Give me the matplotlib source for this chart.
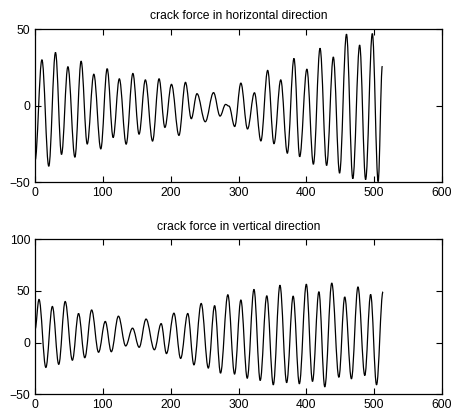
import matplotlib
matplotlib.use("Agg")
import matplotlib.pyplot as plt
from matplotlib.path import Path
from matplotlib.patches import PathPatch

plt.rcParams['font.family'] = ['Liberation Sans', 'DejaVu Sans']

# Crack force, horizontal direction: sample index and force at each turning point
h_x = [0, 10.2, 20.3, 30.2, 39.1, 48.5, 58.8, 68, 77, 86.7, 97, 106.4, 115.2, 124.3,
       134.4, 144.3, 153.4, 162.7, 173.3, 182.9, 191.5, 201.2, 212.2, 221.8, 230.4,
       238.8, 251, 263.2, 272.8, 281, 286, 294.4, 303.5, 313.3, 323.5, 333, 343,
       352.3, 362.3, 372, 381.8, 390.2, 400.8, 410.4, 420.2, 429.9, 439.8, 449,
       459.2, 468.5, 478.6, 487.4, 497.3, 505.9, 512]
h_y = [-36, 29.9, -39.5, 34.7, -31.8, 25.4, -33.6, 29, -25, 20.5, -28.2, 24.1, -20.8, 17.5,
       -25.1, 21, -18.6, 16.8, -23.1, 17.5, -14.2, 13.9, -19.4, 15.2, -8.5,
       7.8, -10.5, 8.5, -6.8, 0.8, -0.3, -13.6, 14.7, -15.2, 8.4, -23, 23,
       -24.8, 16.8, -31, 30.8, -33.3, 23.8, -38.2, 37.4, -39, 31.7, -44,
       46.6, -47.6, 39.5, -48.2, 47, -49.5, 25.8]

# Crack force, vertical direction
v_x = [0, 5.9, 16, 25.6, 35, 44.5, 55.1, 64.2, 73.4, 83.5, 93.7, 103.6, 112.5, 123,
       133.7, 143.8, 153.6, 163.7, 176, 186, 193.8, 204.8, 214.7, 225.2, 234.3,
       245, 255.5, 264.8, 273.5, 284.3, 294.2, 303.5, 312.9, 322.8, 332, 341.7,
       351.3, 361.1, 371, 380.6, 389.7, 400, 409.1, 418.5, 427.2, 437.5, 448,
       456.6, 466.5, 476.1, 486.2, 494.8, 503.5, 513]
v_y = [12.5, 41.8, -24, 35, -21, 39.8, -17, 28.2, -14.6, 31.6, -9.3, 20.5, -8.8, 25.6,
       -3.2, 14, -4.5, 22.8, -6.9, 18.4, -10.6, 28.5, -15.3, 28.2, -21.5,
       37.9, -24.6, 35.8, -29.5, 46.3, -30.4, 41.2, -34.4, 51.5, -36.6, 45.3,
       -40.8, 55.5, -38.7, 45, -39.8, 56.5, -37.5, 49.2, -42.8, 57.6, -33.5,
       44.2, -35, 53.9, -31.8, 46.6, -40.8, 49.2]

x_ticks = [0, 100, 200, 300, 400, 500, 600]
h_yticks = [-50, 0, 50]
v_yticks = [-50, 0, 50, 100]

FS = 8.7
W, H = 455, 417
fig = plt.figure(figsize=(W / 100, H / 100), dpi=100)


def turning_point_path(xs, ys, c=0.363):
    """Smooth Bezier path through the turning points, flat at each one."""
    verts = [(xs[0], ys[0])]
    codes = [Path.MOVETO]
    for x0, y0, x1, y1 in zip(xs[:-1], ys[:-1], xs[1:], ys[1:]):
        dx = x1 - x0
        verts += [(x0 + c * dx, y0), (x1 - c * dx, y1), (x1, y1)]
        codes += [Path.CURVE4] * 3
    return Path(verts, codes)


def panel(rect, xs, ys, title, yticks):
    ax = fig.add_axes(rect)
    ax.add_patch(PathPatch(turning_point_path(xs, ys), facecolor='none',
                           edgecolor='black', lw=0.9))
    ax.set_xlim(0, 600)
    ax.set_ylim(yticks[0], yticks[-1])
    ax.set_xticks(x_ticks)
    ax.set_yticks(yticks)
    ax.tick_params(direction='in', length=4, width=0.8, top=True, right=True,
                   labelsize=FS, pad=3.5)
    for s in ax.spines.values():
        s.set_linewidth(0.9)
    ax.set_title(title, fontsize=FS, pad=7)
    return ax


top = panel([35 / W, 1 - 182.3 / H, 407 / W, 153.3 / H], h_x, h_y,
            'crack force in horizontal direction', h_yticks)
bot = panel([35 / W, 1 - 394.3 / H, 407 / W, 155 / H], v_x, v_y,
            'crack force in vertical direction', v_yticks)

fig.savefig('out.png', dpi=100)
